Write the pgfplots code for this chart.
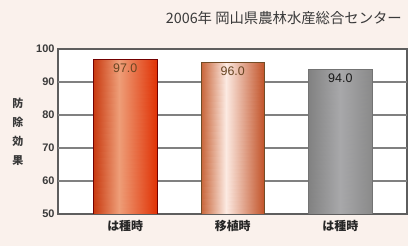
\documentclass[border=0pt]{standalone}
\usepackage{fontspec}
\setmainfont{Liberation Sans}
\newfontfamily\cjk{Noto Sans CJK JP}
\usepackage{pgfplots}
\pgfplotsset{compat=1.18}
\definecolor{bgc}{HTML}{FAF1EC}
\definecolor{framec}{HTML}{5E5E5E}
\definecolor{txtc}{HTML}{3A3A3A}
\pgfplotsset{
  colormap={redmap}{HTML(0)=(C8380E) HTML(0.5)=(EE9E78) HTML(1)=(E03205)},
  colormap={ormap}{HTML(0)=(C86438) HTML(0.5)=(FCEAE2) HTML(1)=(C2542A)},
  colormap={grmap}{HTML(0)=(828282) HTML(0.5)=(A8A8AA) HTML(1)=(8A8A8A)},
}
\begin{document}
\begin{tikzpicture}
\fill[bgc] (0,0) rectangle (408bp,246bp);
\fill[white] (58bp,32bp) rectangle (407bp,197bp);
\node[anchor=east, text=txtc, font=\cjk\fontsize{14.4}{16}\selectfont, inner sep=0pt] at (402bp,228bp) {2006年 岡山県農林水産総合センター};
\begin{axis}[
  at={(58bp,32bp)}, anchor=south west,
  scale only axis, width=349bp, height=165bp,
  ymin=50, ymax=100, ytick={50,60,70,80,90,100},
  xmin=-0.625, xmax=2.62,
  xtick={0,1,2}, xticklabels={は種時,移植時,は種時},
  axis line style={framec, line width=1.4bp},
  major tick length=0pt,
  unbounded coords=jump,
  yticklabel style={font=\bfseries\fontsize{11}{12}\selectfont, text=txtc},
  xticklabel style={font=\cjk\bfseries\fontsize{12}{13}\selectfont, text=black!85, yshift=-3bp},
  /pgf/number format/assume math mode=true,
  ylabel={防\\除\\効\\果},
  ylabel style={rotate=-90, align=center, font=\cjk\bfseries\fontsize{11}{19}\selectfont, text=txtc, at={(axis description cs:-0.115,0.5)}, anchor=center},
  point meta min=0, point meta max=1,
]
% shaded bar bodies (Gouraud-shaded patches)
\addplot[patch, shader=interp, colormap name=redmap, point meta=explicit] coordinates {
 (-0.295,50) [0] (-0.059,50) [0.5] (-0.059,97) [0.5]
 (-0.295,50) [0] (-0.059,97) [0.5] (-0.295,97) [0]
 (-0.059,50) [0.5] (0.295,50) [1] (0.295,97) [1]
 (-0.059,50) [0.5] (0.295,97) [1] (-0.059,97) [0.5]
};
\addplot[patch, shader=interp, colormap name=ormap, point meta=explicit] coordinates {
 (0.705,50) [0] (0.941,50) [0.5] (0.941,96) [0.5]
 (0.705,50) [0] (0.941,96) [0.5] (0.705,96) [0]
 (0.941,50) [0.5] (1.295,50) [1] (1.295,96) [1]
 (0.941,50) [0.5] (1.295,96) [1] (0.941,96) [0.5]
};
\addplot[patch, shader=interp, colormap name=grmap, point meta=explicit] coordinates {
 (1.705,50) [0] (2.0,50) [0.5] (2.0,94) [0.5]
 (1.705,50) [0] (2.0,94) [0.5] (1.705,94) [0]
 (2.0,50) [0.5] (2.295,50) [1] (2.295,94) [1]
 (2.0,50) [0.5] (2.295,94) [1] (2.0,94) [0.5]
};
% grid line segments between the bars
\addplot[black!50, line width=1.2bp, forget plot] coordinates {(-0.625,60) (-0.297,60) (0,nan) (0.297,60) (0.703,60) (1,nan) (1.297,60) (1.703,60) (2,nan) (2.297,60) (2.62,60)};
\addplot[black!50, line width=1.2bp, forget plot] coordinates {(-0.625,70) (-0.297,70) (0,nan) (0.297,70) (0.703,70) (1,nan) (1.297,70) (1.703,70) (2,nan) (2.297,70) (2.62,70)};
\addplot[black!50, line width=1.2bp, forget plot] coordinates {(-0.625,80) (-0.297,80) (0,nan) (0.297,80) (0.703,80) (1,nan) (1.297,80) (1.703,80) (2,nan) (2.297,80) (2.62,80)};
\addplot[black!50, line width=1.2bp, forget plot] coordinates {(-0.625,90) (-0.297,90) (0,nan) (0.297,90) (0.703,90) (1,nan) (1.297,90) (1.703,90) (2,nan) (2.297,90) (2.62,90)};
% outlines and value labels
\addplot[ybar, bar width=0.59, bar shift=0pt, draw=red!45!black, line width=0.6bp, fill=none,
  nodes near coords={\pgfmathprintnumber[fixed, fixed zerofill, precision=1]{\pgfplotspointmeta}},
  nodes near coords style={anchor=north, font=\fontsize{12.5}{13}\selectfont, text=brown!55!black, yshift=-1bp}]
  coordinates {(0,97.0)};
\addplot[ybar, bar width=0.59, bar shift=0pt, draw=brown!60!black, line width=0.6bp, fill=none,
  nodes near coords={\pgfmathprintnumber[fixed, fixed zerofill, precision=1]{\pgfplotspointmeta}},
  nodes near coords style={anchor=north, font=\fontsize{12.5}{13}\selectfont, text=brown!55!black, yshift=-1bp}]
  coordinates {(1,96.0)};
\addplot[ybar, bar width=0.59, bar shift=0pt, draw=black!55, line width=0.6bp, fill=none,
  nodes near coords={\pgfmathprintnumber[fixed, fixed zerofill, precision=1]{\pgfplotspointmeta}},
  nodes near coords style={anchor=north, font=\fontsize{12.5}{13}\selectfont, text=black!90, yshift=-1bp}]
  coordinates {(2,94.0)};
\end{axis}
\end{tikzpicture}
\end{document}
